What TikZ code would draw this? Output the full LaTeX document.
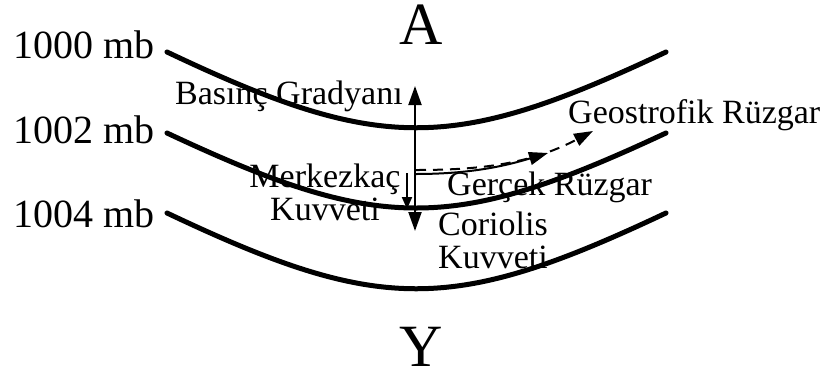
\documentclass[tikz,border=0pt]{standalone}
\usepackage{fontspec}
\setmainfont{Liberation Serif}
\usetikzlibrary{arrows.meta}
\begin{document}
\begin{tikzpicture}[x=1pt,y=-1pt,
  isobar/.style={line width=5pt,line cap=round},
  vec/.style={line width=2pt,-{Triangle[length=19pt,width=13pt]}},
  smallvec/.style={line width=2pt,-{Triangle[length=12pt,width=10pt]}},
  dashvec/.style={line width=2pt,dash pattern=on 10pt off 7pt,-{Triangle[length=19pt,width=13pt]}},
  lbl/.style={inner sep=0pt,font=\fontsize{34}{33}\selectfont},
  plbl/.style={inner sep=0pt,font=\fontsize{40}{40}\selectfont,anchor=base east},
  big/.style={inner sep=0pt,font=\fontsize{60}{60}\selectfont,anchor=base}]
\useasboundingbox (0,0) rectangle (825,376);
% isobars
\draw[isobar] (167,52) .. controls (380,153) and (452,153) .. (666,52);
\draw[isobar] (167,133) .. controls (380,233) and (452,233) .. (666,133);
\draw[isobar] (167,213) .. controls (380,314) and (452,314) .. (666,213);
% labels
\node[plbl] (p1000) at (155,58) {1000 mb};
\node[plbl] (p1002) at (155,143) {1002 mb};
\node[plbl] (p1004) at (155,227) {1004 mb};
\node[big] (A) at (421,44) {A};
\node[big] (Y) at (421,366) {Y};
\node[lbl,anchor=base west] (bg) at (175,104) {Basınç Gradyanı};
\node[lbl,anchor=base west] (gr) at (568,123) {Geostrofik Rüzgar};
\node[lbl,anchor=base west] (gc) at (447,195) {Gerçek Rüzgar};
\node[lbl,anchor=north,align=center] (mk) at (325,164) {Merkezkaç\\Kuvveti};
\node[lbl,anchor=north west,align=left] (ck) at (438,212) {Coriolis\\Kuvveti};
% vectors
\coordinate (O) at (415,172);
\coordinate (Otop) at (415,86);
\coordinate (Obot) at (415,231);
\coordinate (M0) at (407,173);
\coordinate (M1) at (407,209);
\coordinate (W0) at (416,174);
\coordinate (W1) at (548,153);
\coordinate (G0) at (416,170);
\coordinate (G1) at (593,131);
\draw[vec] (O) -- (Otop);
\draw[vec] (O) -- (Obot);
\draw[smallvec] (M0) -- (M1);
\draw[vec] (W0) .. controls (470,174) and (505,166) .. (W1);
\draw[dashvec] (G0) .. controls (480,170) and (530,164) .. (G1);
\end{tikzpicture}
\end{document}
